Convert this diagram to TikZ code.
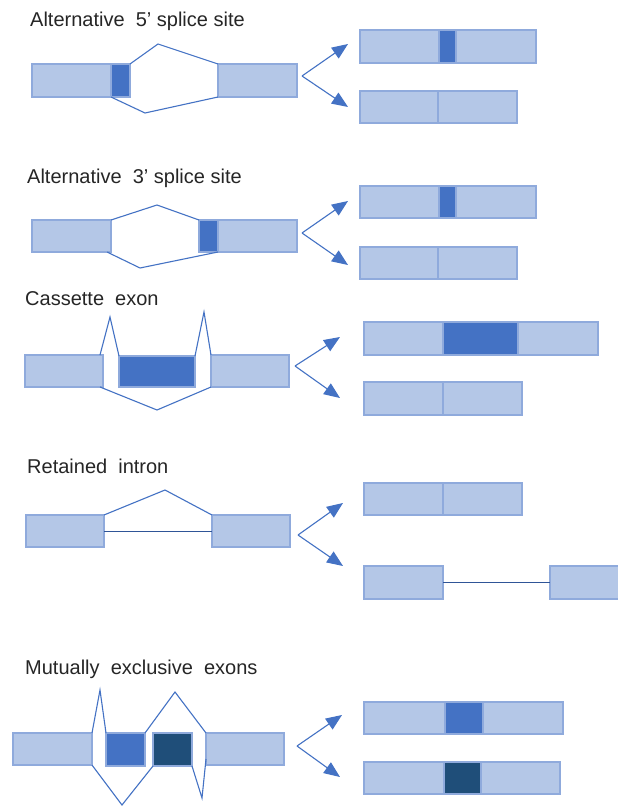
\documentclass[tikz,border=0pt]{standalone}
\usepackage{fontspec}
\setmainfont{Liberation Sans}
\usetikzlibrary{arrows.meta}
\definecolor{lt}{HTML}{B4C7E7}
\definecolor{bd}{HTML}{8FAADC}
\definecolor{dk}{HTML}{4472C4}
\definecolor{dd}{HTML}{1F4E79}
\definecolor{ln}{HTML}{4472C4}
\definecolor{tx}{HTML}{262626}
\definecolor{intr}{HTML}{2F5597}
\newcommand{\bx}[6][light]{\node[#1, minimum width={(#5-#3)*1pt}, minimum height={(#6-#4)*1pt}] (#2) at (#3,#4) {};}
\tikzset{
  box/.style={draw=bd, line width=1.8pt, inner sep=0pt, outer sep=0pt, anchor=north west},
  light/.style={box, fill=lt},
  dark/.style={box, fill=dk},
  darker/.style={box, fill=dd},
  splice/.style={draw=ln, line width=1.1pt, line join=miter},
  intronln/.style={draw=intr, line width=1pt},
  outarrow/.style={draw=dk, line width=1.1pt, -{Triangle[length=16pt,width=13pt]}},
  title/.style={anchor=base west, inner sep=0pt, text=tx, font=\fontsize{20}{24}\selectfont}
}
\begin{document}
\begin{tikzpicture}[x=1pt,y=-1pt]
\useasboundingbox[fill=white] (0,0) rectangle (618,808);
% ---------- Panel 1
\node[title] (T1) at (30,27) {Alternative\ \ 5’ splice site};
\bx{A1}{32}{64}{111}{97}
\bx[dark]{A1d}{111}{64}{130}{97}
\bx{A1r}{218}{64}{297}{97}
\coordinate (A1p) at (158,44);
\coordinate (A1q) at (145,113);
\draw[splice] (A1d.north east) -- (A1p) -- (A1r.north west);
\draw[splice] (A1d.south west) -- (A1q) -- (A1r.south west);
\coordinate (A1o) at (302,76);
\coordinate (A1u) at (348,44);
\coordinate (A1w) at (348,107);
\draw[outarrow] (A1o) -- (A1u);
\draw[outarrow] (A1o) -- (A1w);
\bx{A1t1}{360}{30}{439}{63}
\bx[dark]{A1t2}{439}{30}{456}{63}
\bx{A1t3}{456}{30}{536}{63}
\bx{A1b1}{360}{91}{438}{123}
\bx{A1b2}{438}{91}{517}{123}
% ---------- Panel 2
\node[title] (T2) at (27,183) {Alternative\ \ 3’ splice site};
\bx{B1}{32}{220}{111}{252}
\bx[dark]{B1d}{199}{220}{218}{252}
\bx{B1r}{218}{220}{297}{252}
\coordinate (B1p) at (157,205);
\coordinate (B1q) at (140,268);
\draw[splice] (B1.north east) -- (B1p) -- (B1d.north west);
\draw[splice] ([xshift=-4pt]B1.south east) -- (B1q) -- (B1r.south west);
\coordinate (B1o) at (302,233);
\coordinate (B1u) at (348,201);
\coordinate (B1w) at (348,265);
\draw[outarrow] (B1o) -- (B1u);
\draw[outarrow] (B1o) -- (B1w);
\bx{B1t1}{360}{186}{439}{218}
\bx[dark]{B1t2}{439}{186}{456}{218}
\bx{B1t3}{456}{186}{536}{218}
\bx{B1b1}{360}{247}{438}{279}
\bx{B1b2}{438}{247}{517}{279}
% ---------- Panel 3
\node[title] (T3) at (25,305) {Cassette\ \ exon};
\bx{C1}{25}{355}{103}{387}
\bx[dark]{C1m}{119}{356}{195}{387}
\bx{C1r}{211}{355}{289}{387}
\coordinate (C1p) at (110,317);
\coordinate (C1s) at (204,312);
\coordinate (C1q) at (157,410);
\draw[splice] ([xshift=-3pt]C1.north east) -- (C1p) -- (C1m.north west);
\draw[splice] (C1m.north east) -- (C1s) -- (C1r.north west);
\draw[splice] ([xshift=-3pt]C1.south east) -- (C1q) -- (C1r.south west);
\coordinate (C1o) at (295,366);
\coordinate (C1u) at (340,337);
\coordinate (C1w) at (340,398);
\draw[outarrow] (C1o) -- (C1u);
\draw[outarrow] (C1o) -- (C1w);
\bx{C1t1}{364}{322}{443}{355}
\bx[dark]{C1t2}{443}{322}{518}{355}
\bx{C1t3}{518}{322}{598}{355}
\bx{C1b1}{364}{382}{443}{415}
\bx{C1b2}{443}{382}{522}{415}
% ---------- Panel 4
\node[title] (T4) at (27,473) {Retained\ \ intron};
\bx{D1}{26}{515}{104}{547}
\bx{D1r}{212}{515}{290}{547}
\draw[intronln] (D1.east) -- (D1r.west);
\coordinate (D1p) at (165,490);
\draw[splice] (D1.north east) -- (D1p) -- (D1r.north west);
\coordinate (D1o) at (298,535);
\coordinate (D1u) at (343,503);
\coordinate (D1w) at (343,566);
\draw[outarrow] (D1o) -- (D1u);
\draw[outarrow] (D1o) -- (D1w);
\bx{D1t1}{364}{483}{443}{515}
\bx{D1t2}{443}{483}{522}{515}
\bx{D1b1}{364}{566}{443}{599}
\bx{D1b2}{550}{566}{630}{599}
\draw[intronln] (D1b1.east) -- (D1b2.west);
% ---------- Panel 5
\node[title] (T5) at (25,674) {Mutually\ \ exclusive\ \ exons};
\bx{E1}{13}{733}{92}{765}
\bx[dark]{E1a}{106}{733}{145}{766}
\bx[darker]{E1b}{153}{733}{192}{766}
\bx{E1r}{206}{733}{284}{765}
\coordinate (E1p) at (100,690);
\coordinate (E1s) at (175,692);
\coordinate (E1q) at (122,805);
\coordinate (E1t) at (202,798);
\draw[splice] (E1.north east) -- (E1p) -- (E1a.north west);
\draw[splice] (E1a.north east) -- (E1s) -- (E1r.north west);
\draw[splice] (E1.south east) -- (E1q) -- (E1b.south west);
\draw[splice] (E1b.south east) -- (E1t) -- ([yshift=6pt]E1r.south west);
\coordinate (E1o) at (297,746);
\coordinate (E1u) at (342,715);
\coordinate (E1w) at (340,777);
\draw[outarrow] (E1o) -- (E1u);
\draw[outarrow] (E1o) -- (E1w);
\bx{E1t1}{364}{702}{445}{734}
\bx[dark]{E1t2}{445}{702}{483}{734}
\bx{E1t3}{483}{702}{563}{734}
\bx{E1b1}{364}{762}{444}{794}
\bx[darker]{E1b2}{444}{762}{481}{794}
\bx{E1b3}{481}{762}{560}{794}
\end{tikzpicture}
\end{document}
